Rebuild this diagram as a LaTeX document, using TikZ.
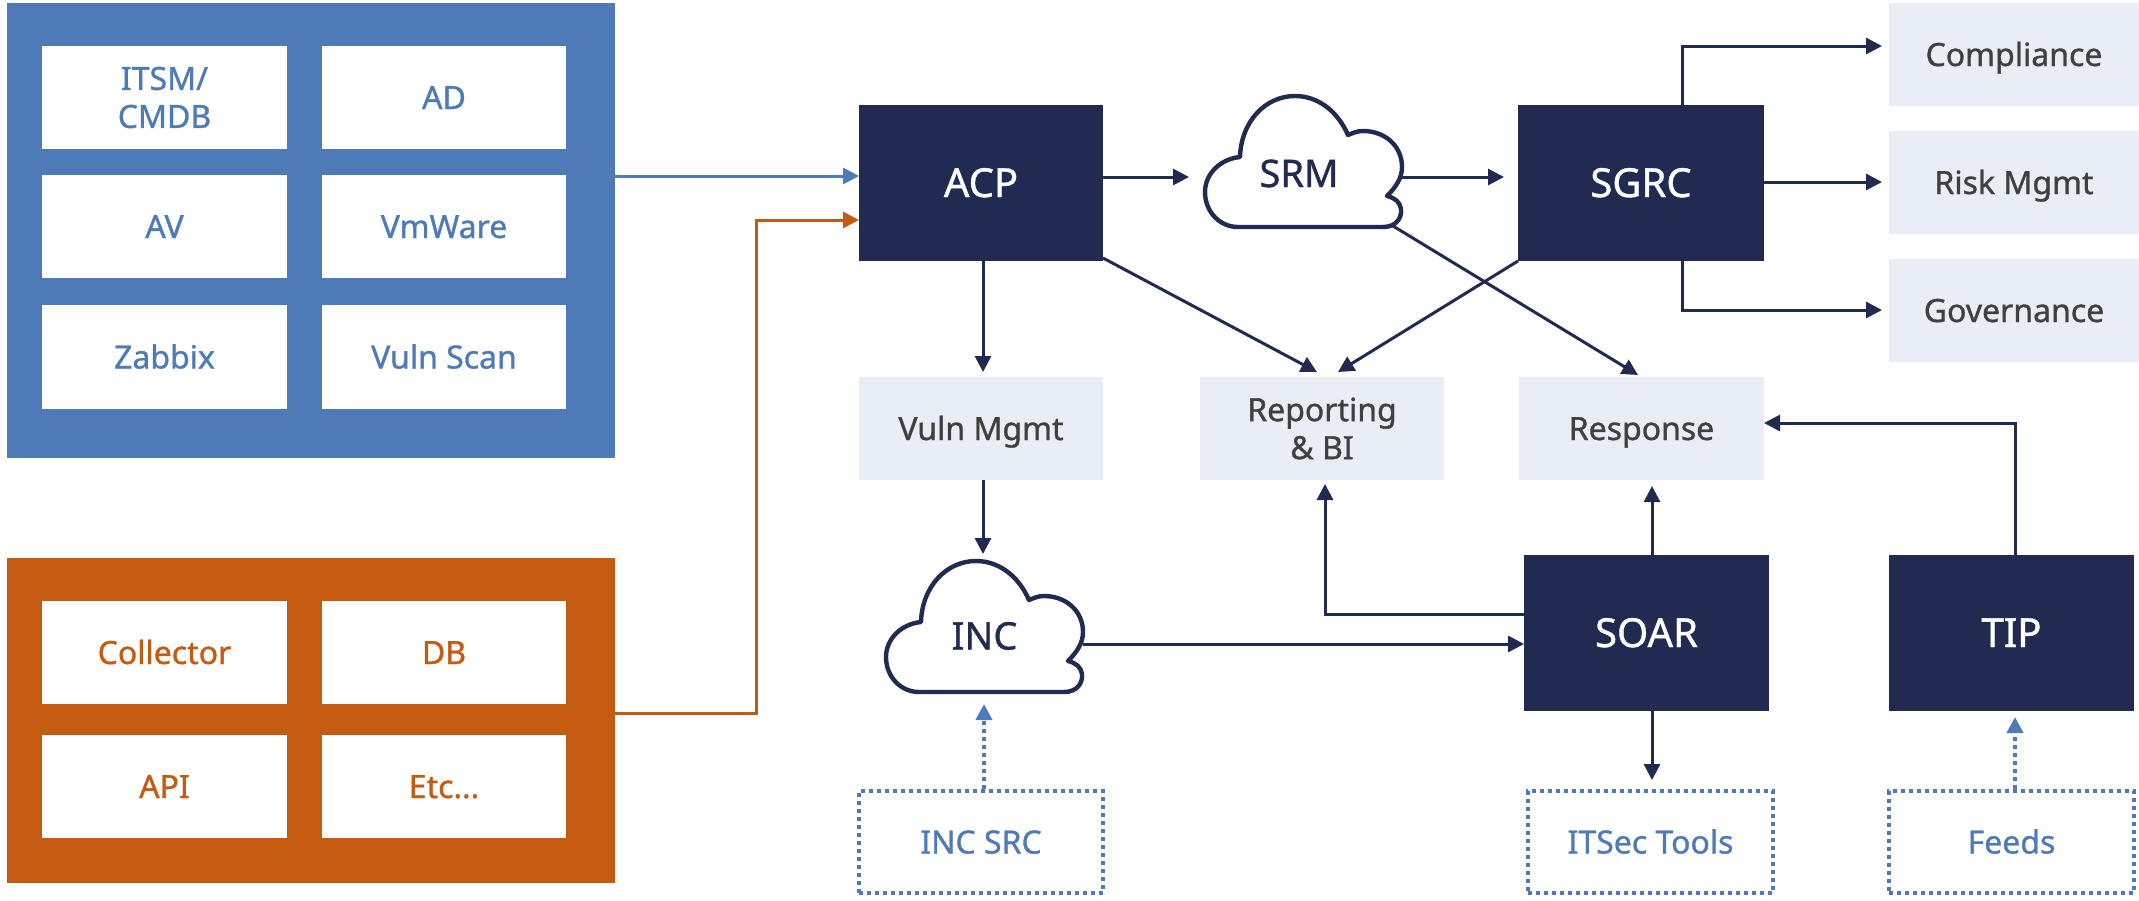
\documentclass[tikz,border=0pt]{standalone}
\usepackage{fontspec}
\setmainfont{Noto Sans}[FakeBold=1]
\usetikzlibrary{arrows.meta}
\definecolor{cblue}{HTML}{4E7AB8}
\definecolor{corange}{HTML}{C55A11}
\definecolor{cnavy}{HTML}{212B52}
\definecolor{clight}{HTML}{E9EEF5}
\definecolor{csoft}{HTML}{404040}
\tikzset{
  x=1pt,y=-1pt,
  lab/.style={font=\fontsize{32}{38}\selectfont,align=center,inner sep=0pt,outer sep=0pt},
  one/.style={text height=23pt,text depth=0pt},
  panelblue/.style={fill=cblue,inner sep=0pt,outer sep=0pt},
  panelorange/.style={fill=corange,inner sep=0pt,outer sep=0pt},
  cellblue/.style={lab,fill=white,text=cblue},
  cellorange/.style={lab,fill=white,text=corange},
  dark/.style={lab,fill=cnavy,text=white,font=\fontsize{40}{46}\selectfont,text height=28pt,text depth=0pt},
  soft/.style={lab,fill=clight,text=csoft},
  source/.style={lab,one,text=cblue,draw=cblue,line width=4pt,dash pattern=on 4pt off 4pt},
  cloudlab/.style={lab,text=cnavy,font=\fontsize{38}{44}\selectfont,text height=27pt,text depth=0pt},
  cloudline/.style={draw=cnavy,line width=4.4pt,fill=white,line join=round},
  conn/.style={draw=cnavy,line width=3pt,-{Triangle[length=16pt,width=16pt]}},
  connb/.style={draw=cblue,line width=3pt,-{Triangle[length=16pt,width=16pt]}},
  conno/.style={draw=corange,line width=3pt,-{Triangle[length=16pt,width=16pt]}},
  connd/.style={draw=cblue,line width=4pt,dash pattern=on 4pt off 4pt,-{Triangle[length=16pt,width=16pt]}},
}
% name, x0, y0, x1, y1, style, text
\newcommand{\bx}[7]{\node[#6,minimum width={(#4-#2)*1pt},minimum height={(#5-#3)*1pt}] (#1) at ({(#2+#4)/2},{(#3+#5)/2}) {#7};}
% cloud outline with its top-left corner at (#1,#2), outline 197 x 131
\newcommand{\cloudat}[2]{%
  \path[cloudline,shift={(#1,#2)}]
    (33,131) -- (178,131)
    .. controls (191,131) and (197,122) .. (196,113)
    .. controls (195,106) and (190,102) .. (182,100)
    .. controls (191,91) and (197,82) .. (197,71)
    .. controls (197,50) and (180,35) .. (158,35)
    .. controls (152,35) and (148,37) .. (143,39)
    .. controls (132,14) and (112,0) .. (90,0)
    .. controls (60,0) and (36,26) .. (35,61)
    .. controls (15,63) and (0,78) .. (0,96)
    .. controls (0,116) and (15,131) .. (33,131) -- cycle;
}
\begin{document}
\begin{tikzpicture}
\useasboundingbox (0,0) rectangle (2139,900);
\fill[white] (0,0) rectangle (2139,900);

\bx{blue}{7}{3}{615}{458}{panelblue}{}
\bx{itsm}{42}{46}{287}{149}{cellblue}{ITSM/\\CMDB}
\bx{ad}{322}{46}{566}{149}{cellblue,one}{AD}
\bx{av}{42}{175}{287}{278}{cellblue,one}{AV}
\bx{vmw}{322}{175}{566}{278}{cellblue,one}{VmWare}
\bx{zab}{42}{305}{287}{409}{cellblue,one}{Zabbix}
\bx{vuln}{322}{305}{566}{409}{cellblue,one}{Vuln Scan}

\bx{orange}{7}{558}{615}{883}{panelorange}{}
\bx{coll}{42}{601}{287}{704}{cellorange,one}{Collector}
\bx{db}{322}{601}{566}{704}{cellorange,one}{DB}
\bx{api}{42}{735}{287}{838}{cellorange,one}{API}
\bx{etc}{322}{735}{566}{838}{cellorange,one}{Etc...}

\bx{acp}{859}{105}{1103}{261}{dark}{ACP}
\bx{sgrc}{1518}{105}{1764}{261}{dark}{SGRC}
\bx{soar}{1524}{555}{1769}{711}{dark}{SOAR}
\bx{tip}{1889}{555}{2134}{711}{dark}{TIP}

\bx{comp}{1889}{3}{2139}{106}{soft,one}{Compliance}
\bx{risk}{1889}{131}{2139}{234}{soft,one}{Risk Mgmt}
\bx{gov}{1889}{259}{2139}{362}{soft,one}{Governance}
\bx{vmgmt}{859}{377}{1103}{480}{soft,one}{Vuln Mgmt}
\bx{rep}{1200}{377}{1444}{480}{soft}{Reporting\\\& BI}
\bx{resp}{1519}{377}{1764}{480}{soft,one}{Response}

\bx{incsrc}{859}{791}{1103}{893}{source}{INC SRC}
\bx{itsec}{1528}{791}{1773}{893}{source}{ITSec Tools}
\bx{feeds}{1889}{791}{2134}{893}{source}{Feeds}

\cloudat{1205}{96}
\cloudat{886}{561}
\node[cloudlab,minimum width=197pt] (srm) at (1303.5,173.5) {\hspace*{-9pt}SRM};
\node[cloudlab,minimum width=197pt] (inc) at (984.5,636) {INC};

% connectors
\draw[connb] (blue.east |- 0,176) -- (acp.west |- 0,176);
\draw[conno] (orange.east |- 0,713) -- (756,713) -- (756,220) -- (acp.west |- 0,220);
\draw[conn] (acp.east |- 0,177) -- (1189,177);
\draw[conn] (srm.east |- 0,177) -- (1504,177);
\draw[conn] (1682,105) -- (1682,46) -- (1882,46);
\draw[conn] (sgrc.east |- 0,182) -- (1882,182);
\draw[conn] (1682,261) -- (1682,310) -- (1882,310);
\draw[conn] (983,261) -- (983,372);
\draw[conn] (983,480) -- (983,554);
\draw[conn] (acp.south east) ++(0,-3) -- (1317,372);
\draw[conn] (sgrc.south west) -- (1338,372);
\draw[conn] (1393,226) -- (1638,375);
\draw[conn] (2015,555) -- (2015,423) -- (resp.east |- 0,423);
\draw[conn] (1652,555) -- (1652,486);
\draw[conn] (soar.west |- 0,614) -- (1325,614) -- (1325,484);
\draw[conn] (inc.east |- 0,644) -- (soar.west |- 0,644);
\draw[conn] (1652,711) -- (1652,780);
\draw[connd] (984,789) -- (984,704);
\draw[connd] (2015,789) -- (2015,717);
\end{tikzpicture}
\end{document}
